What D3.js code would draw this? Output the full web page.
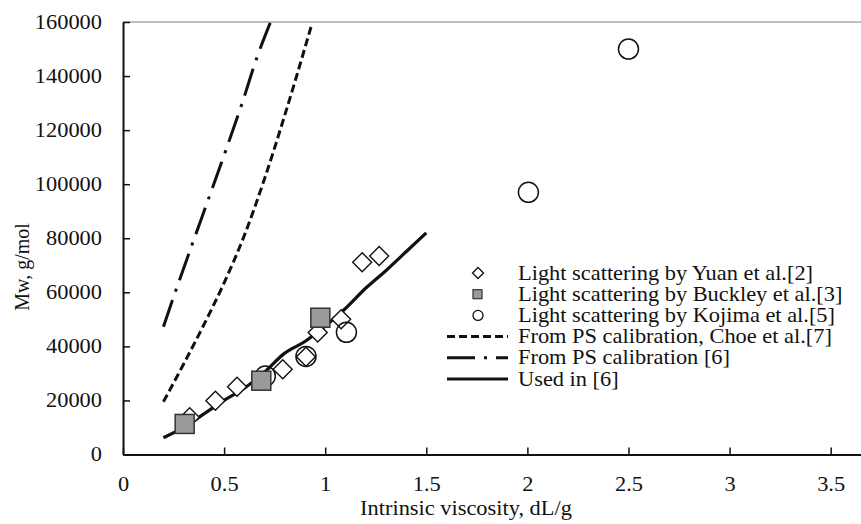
<!DOCTYPE html>
<html>
<head>
<meta charset="utf-8">
<script src="https://cdn.jsdelivr.net/npm/d3@7"></script>
<style>
  body { margin: 0; background: #fff; }
  svg text { font-family: "Liberation Serif", "DejaVu Serif", serif; fill: #111; }
</style>
</head>
<body>
<div id="chart"></div>
<script>
// Scatter data
const yuanX = [0.33, 0.457, 0.564, 0.79, 0.905, 0.963, 1.079, 1.183, 1.267]
const yuanY = [13800, 19900, 25100, 31500, 36200, 45100, 50000, 71100, 73400]
const buckleyX = [0.305, 0.684, 0.976]
const buckleyY = [11300, 27300, 50600]
const kojimaX = [0.704, 0.905, 1.105, 2.005, 2.5]
const kojimaY = [29000, 36300, 45200, 97000, 150000]

// Calibration curves
const choeX = [0.2, 0.3, 0.4, 0.5, 0.6, 0.7, 0.8, 0.9, 0.935]
const choeY = [19500, 33500, 48000, 63500, 81000, 102000, 125500, 150500, 159500]
const psX = [0.2, 0.259, 0.341, 0.424, 0.506, 0.589, 0.663, 0.73]
const psY = [47300, 60200, 77500, 94800, 112000, 129900, 147000, 160000]
const usedX = [0.2, 0.3, 0.4, 0.5, 0.6, 0.7, 0.8, 0.9, 1.0, 1.1, 1.2, 1.3, 1.4, 1.5]
const usedY = [6200, 10000, 15000, 20000, 24500, 30500, 37500, 41800, 47500, 54000, 61500, 68000, 75000, 82000]

const xTicks = [0, 0.5, 1, 1.5, 2, 2.5, 3, 3.5]
const yTicks = [0, 20000, 40000, 60000, 80000, 100000, 120000, 140000, 160000]

const legendLabels = [
  'Light scattering by Yuan et al.[2]',
  'Light scattering by Buckley et al.[3]',
  'Light scattering by Kojima et al.[5]',
  'From PS calibration, Choe et al.[7]',
  'From PS calibration [6]',
  'Used in [6]'
]

const width = 861, height = 524
const stretch = 1.12   // text in the figure is a bit wide
const fontSize = '20px'

const svg = d3.select('#chart').append('svg')
  .attr('width', width).attr('height', height)

const x = d3.scaleLinear().domain([0, 3.65]).range([123, 861])
const y = d3.scaleLinear().domain([0, 160000]).range([454.5, 22])

// top border (grey)
svg.append('line')
  .attr('x1', x(0)).attr('x2', width)
  .attr('y1', y(160000)).attr('y2', y(160000))
  .style('stroke', '#aaa').style('stroke-width', 1.5)

// axes
const gx = svg.append('g')
  .attr('transform', `translate(0,${y(0)})`)
  .call(d3.axisBottom(x).tickValues(xTicks).tickFormat(d3.format('')).tickSizeInner(-7).tickSizeOuter(0).tickPadding(22))
const gy = svg.append('g')
  .attr('transform', `translate(${x(0)},0)`)
  .call(d3.axisLeft(y).tickValues(yTicks).tickFormat(d3.format('d')).tickSizeInner(-7).tickSizeOuter(0).tickPadding(21))

;[gx, gy].forEach(g => {
  g.attr('font-family', null)
  g.select('.domain').style('stroke', '#111').style('stroke-width', 2)
  g.selectAll('.tick line').style('stroke', '#111').style('stroke-width', 1.5)
  g.selectAll('.tick text').style('font-size', fontSize).style('fill', '#111')
})
gx.selectAll('.tick text').attr('transform', `scale(${stretch},1)`)
gy.selectAll('.tick text').attr('x', -21 / stretch).attr('transform', `scale(${stretch},1)`)

// axis titles
svg.append('text')
  .attr('transform', `translate(466,515) scale(${stretch},1)`)
  .attr('text-anchor', 'middle')
  .style('font-size', fontSize)
  .text('Intrinsic viscosity, dL/g')
svg.append('text')
  .attr('transform', 'translate(29,267) rotate(-90)')
  .attr('text-anchor', 'middle')
  .style('font-size', fontSize)
  .text('Mw, g/mol')

// lines
const line = d3.line().x(d => x(d[0])).y(d => y(d[1])).curve(d3.curveMonotoneX)
const gLines = svg.append('g')
gLines.append('path')
  .datum(d3.zip(choeX, choeY))
  .attr('d', line)
  .style('fill', 'none').style('stroke', '#111').style('stroke-width', 3)
  .style('stroke-dasharray', '8,4')
gLines.append('path')
  .datum(d3.zip(psX, psY))
  .attr('d', line)
  .style('fill', 'none').style('stroke', '#111').style('stroke-width', 3)
  .style('stroke-dasharray', '28,9,3,9')
gLines.append('path')
  .datum(d3.zip(usedX, usedY))
  .attr('d', line)
  .style('fill', 'none').style('stroke', '#111').style('stroke-width', 3.2)

// markers
const gPts = svg.append('g')
const diamond = s => `M0,${-s}L${s},0L0,${s}L${-s},0Z`

gPts.selectAll('.yuan')
  .data(d3.zip(yuanX, yuanY))
  .join('path')
  .classed('yuan', true)
  .attr('transform', d => `translate(${x(d[0])},${y(d[1])})`)
  .attr('d', diamond(9.5))
  .style('fill', '#fff').style('stroke', '#111').style('stroke-width', 1.4)

gPts.selectAll('.kojima')
  .data(d3.zip(kojimaX, kojimaY))
  .join('circle')
  .classed('kojima', true)
  .attr('cx', d => x(d[0])).attr('cy', d => y(d[1]))
  .attr('r', 10)
  .style('fill', 'none').style('stroke', '#111').style('stroke-width', 1.5)

gPts.selectAll('.buckley')
  .data(d3.zip(buckleyX, buckleyY))
  .join('rect')
  .classed('buckley', true)
  .attr('x', d => x(d[0]) - 9.5).attr('y', d => y(d[1]) - 9.5)
  .attr('width', 19).attr('height', 19)
  .style('fill', '#9a9a9a').style('stroke', '#333').style('stroke-width', 1.5)

// legend
const legend = svg.append('g').attr('transform', 'translate(0,273)')
const rowH = 21.2
legendLabels.forEach((lab, i) => {
  const row = legend.append('g').attr('transform', `translate(0,${i * rowH})`)
  if (i === 0) {
    row.append('path').attr('transform', 'translate(478,0)').attr('d', diamond(5.5))
      .style('fill', '#fff').style('stroke', '#111').style('stroke-width', 1.3)
  } else if (i === 1) {
    row.append('rect').attr('x', 473).attr('y', -4.5).attr('width', 9).attr('height', 9)
      .style('fill', '#9a9a9a').style('stroke', '#333').style('stroke-width', 1.2)
  } else if (i === 2) {
    row.append('circle').attr('cx', 478).attr('cy', 0).attr('r', 5)
      .style('fill', 'none').style('stroke', '#111').style('stroke-width', 1.3)
  } else {
    const ln = row.append('line').attr('x1', 447).attr('x2', 508).attr('y1', 0).attr('y2', 0)
      .style('stroke', '#111').style('stroke-width', 3)
    if (i === 3) ln.style('stroke-dasharray', '8,4')
    if (i === 4) ln.style('stroke-dasharray', '28,9,3,9')
  }
  row.append('text')
    .attr('transform', `translate(518,0) scale(${stretch},1)`)
    .attr('dy', '0.33em')
    .style('font-size', fontSize)
    .text(lab)
})
</script>
</body>
</html>
